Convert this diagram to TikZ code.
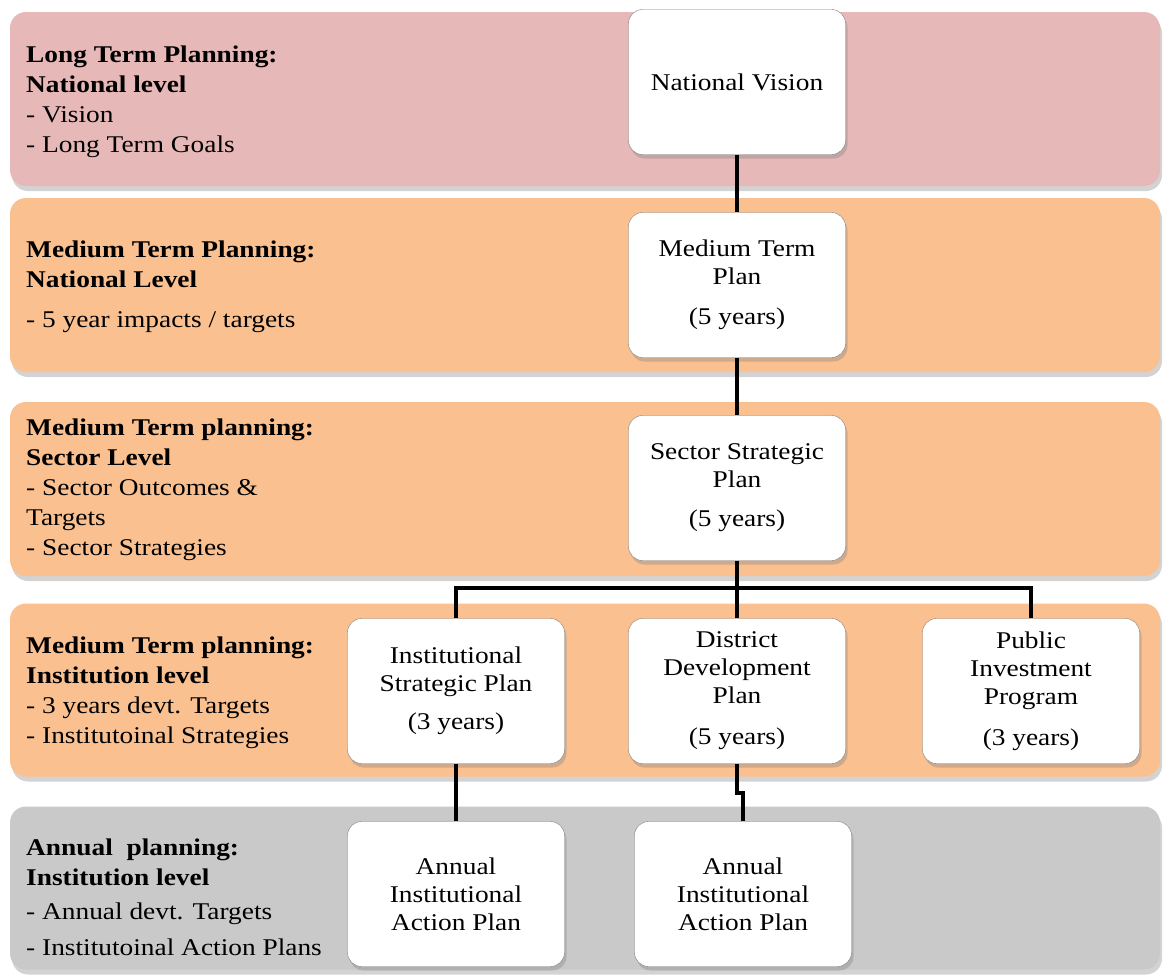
\documentclass[tikz,border=0pt]{standalone}
\usepackage{fontspec}
\setmainfont[FakeStretch=1.14]{Liberation Serif}
\usepackage{tikz}
\usetikzlibrary{positioning, calc, shadows}
\definecolor{bandpink}{HTML}{E6B8B7}
\definecolor{bandorange}{HTML}{FAC090}
\definecolor{bandgray}{HTML}{C9C9C9}
\definecolor{boxline}{HTML}{808080}
\tikzset{band/.style={rectangle,rounded corners=16pt,minimum width=1150pt,inner sep=0pt,drop shadow={shadow xshift=2pt,shadow yshift=-5pt,opacity=0.35}},
         planbox/.style={rectangle,draw=boxline,fill=white,rounded corners=14pt,minimum width=217pt,minimum height=145pt,align=center,inner sep=2pt,font=\fontsize{24}{28}\selectfont,drop shadow={shadow xshift=2pt,shadow yshift=-4pt,opacity=0.35}},
         leveltext/.style={anchor=west,align=left,inner sep=0pt,font=\fontsize{24}{30}\selectfont},
         link/.style={line width=4pt}}

\begin{document}
\begin{tikzpicture}[x=1pt,y=-1pt]
    \useasboundingbox (0,0) rectangle (1163,977);
    % background bands
    \node (b1) [band, fill=bandpink, minimum height=174pt] at (585,99) {};
    \node (b2) [band, fill=bandorange, minimum height=174pt] at (585,285) {};
    \node (b3) [band, fill=bandorange, minimum height=174pt] at (585,489) {};
    \node (b4) [band, fill=bandorange, minimum height=173pt] at (585,690) {};
    \node (b5) [band, fill=bandgray, minimum height=163pt] at (585,888) {};
    % level descriptions
    \node (t1) [leveltext] at (26,102) {\textbf{Long Term Planning:}\\\textbf{National level}\\- Vision\\- Long Term Goals};
    \node (t2) [leveltext] at (26,287) {\textbf{Medium Term Planning:}\\\textbf{National Level}\\[10pt]- 5 year impacts / targets};
    \node (t3) [leveltext] at (26,490) {\textbf{Medium Term planning:}\\\textbf{Sector Level}\\- Sector Outcomes \&\\Targets\\- Sector Strategies};
    \node (t4) [leveltext] at (26,693) {\textbf{Medium Term planning:}\\\textbf{Institution level}\\- 3 years devt. Targets\\- Institutoinal Strategies};
    \node (t5) [leveltext] at (26,897) {\textbf{Annual\ \ planning:}\\\textbf{Institution level}\\[4pt]- Annual devt. Targets\\[6pt]- Institutoinal Action Plans};
    % plans
    \node (nv) [planbox] at (737,82) {National Vision};
    \node (mtp) [planbox] at (737,285) {Medium Term\\Plan\\[12pt](5 years)};
    \node (ssp) [planbox] at (737,488) {Sector Strategic\\Plan\\[11pt](5 years)};
    \node (isp) [planbox] at (456,691) {Institutional\\Strategic Plan\\[10pt](3 years)};
    \node (ddp) [planbox] at (737,691) {District\\Development\\Plan\\[13pt](5 years)};
    \node (pip) [planbox] at (1031,691) {Public\\Investment\\Program\\[13pt](3 years)};
    \node (aap1) [planbox] at (456,894) {Annual\\Institutional\\Action Plan};
    \node (aap2) [planbox] at (743,894) {Annual\\Institutional\\Action Plan};
    % connectors
    \coordinate (split) at (737,588);
    \foreach \i/\j in {nv/mtp,mtp/ssp,ssp/ddp,isp/aap1} {\draw[link] (\i) -- (\j);}
    \foreach \j in {isp,pip} {\draw[link] (split) -| (\j.north);}
    \draw[link] (ddp.south) -- ++(0,29) -| (aap2.north);
\end{tikzpicture}
\end{document}
